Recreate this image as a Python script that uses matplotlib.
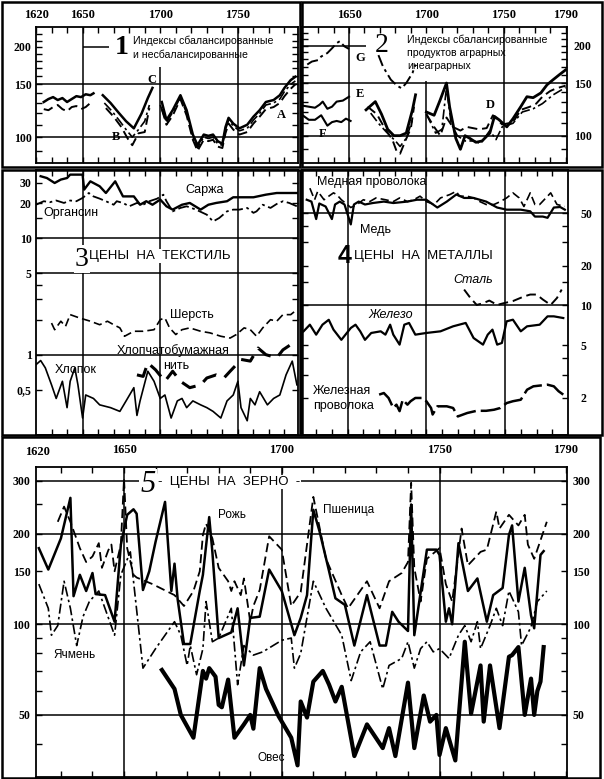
import numpy as np
import matplotlib
matplotlib.use('Agg')
import matplotlib.pyplot as plt
from matplotlib.patches import Rectangle
from matplotlib.ticker import FixedLocator, FixedFormatter, NullFormatter

plt.rcParams['font.family'] = ['Liberation Serif', 'DejaVu Serif']
plt.rcParams['font.weight'] = 'bold'
nan = np.nan

# ---------------- Panel 1: balanced / unbalanced indices ----------------
p1_solid_years = [1625,1628,1631,1634,1637,1640,1643,1646,1649,1652,1655,1657,1660,
                  1663,1668,1673,1678,1683,1688,1692,1695,1698,
                  1701,1704,1708,1713,1717,1721,1724,1728,1731,1734,1737,1740,1742,1744,
                  1747,1751,1756,1760,1764,1768,1773,1777,1780,1784,1787]
p1_solid = [131,134,136,133,135,131,134,137,136,139,138,140,nan,
            138,130,121,113,107,120,135,146,nan,
            131,114,123,138,123,102,94,102,101,102,97,95,108,116,
            111,107,110,117,123,131,133,138,146,155,159]
p1_dash_years = [1625,1628,1631,1634,1637,1640,1643,1646,1649,1652,1655,1659,
                 1665,1670,1675,1679,1682,1686,1690,1693,1697,
                 1701,1704,1708,1713,1717,1721,1724,1728,1731,1734,1737,1740,1742,1744,
                 1747,1751,1756,1760,1764,1768,1773,1777,1780,1784,1787]
p1_dash = [124,123,126,128,124,122,126,127,124,126,130,nan,
           125,117,108,99,94,103,104,125,nan,
           124,110,118,134,118,98,90,98,97,98,93,92,103,111,
           106,102,104,111,117,124,126,130,137,145,150]
p1_dd_years = [1664,1669,1674,1678,1682,1686,1690,1693,1697,
               1700,1704,1708,1713,1717,1721,1724,1728,1731,1734,1737,1740,1742,1744,
               1747,1751,1756,1760,1764,1768,1773,1777,1780,1784,1787]
p1_dd = [130,122,113,106,100,106,113,128,nan,
         128,112,121,136,120,100,92,100,99,100,95,94,106,114,
         109,105,107,114,120,128,130,134,142,150,154]

# ---------------- Panel 2: agrarian / non-agrarian ----------------
p2_G_years = [1623,1626,1630,1632,1636,1639,1642,1644,1647,1650,1660,
              1669,1672,1677,1681,1684,1687,1691,1693]
p2_G = [173,177,179,184,189,196,204,207,199,195,nan,
        186,170,154,147,144,150,162,173]
p2_E_years = [1620,1624,1628,1631,1633,1636,1639,1642,1646,1650]
p2_E = [126,125,124,127,130,123,125,130,131,135]
p2_F_years = [1620,1624,1628,1632,1636,1639,1642,1645,1648,1651]
p2_F = [117,113,113,117,108,111,112,111,114,112]
p2_solid_years = [1661,1667,1671,1675,1679,1683,1687,1691,1693,1696,
                  1700,1705,1709,1713,1715,1719,1722,1725,1728,1732,1736,1741,1744,1747,
                  1752,1756,1761,1765,1769,1774,1778,1782,1786,1790]
p2_solid = [122,130,118,105,100,100,102,122,137,nan,
            120,117,132,150,125,98,90,100,98,95,96,102,116,113,
            107,114,125,135,134,139,148,154,160,166]
p2_dash_years = [1662,1668,1673,1678,1681,1683,1686,1690,1692,1696,
                 1700,1705,1709,1713,1717,1722,1726,1730,1734,1739,1743,1746,1749,1753,
                 1757,1761,1767,1771,1775,1780,1784,1790]
p2_dash = [125,118,106,97,88,87,95,106,125,nan,
           118,107,100,115,107,104,107,106,105,106,117,113,109,110,
           113,122,125,128,135,141,144,147]
p2_dd_years = [1664,1669,1674,1680,1683,1687,1691,1696,
               1700,1706,1710,1713,1716,1720,1725,1731,1735,1741,1745,1749,1756,1762,
               1769,1775,1782,1790]
p2_dd = [119,110,103,96,92,98,113,nan,
         118,102,105,145,110,100,96,96,94,104,97,107,110,120,
         123,128,137,145]

# ---------------- Panel 3: textile prices ----------------
sarzha_years = [1623,1627,1632,1636,1640,1642,1650,1651,1655,1661,1665,1671,1676,1683,1687,
                1691,1695,1700,1704,1708,1714,1719,1726,1731,1736,1743,1747,1760,1768,1775,1788]
sarzha = [34.3,33.1,30,32.1,33.1,35.4,35.4,26.3,31,28.1,24.6,31,23,23,19.5,
          20.9,19.5,21.6,18.9,17.7,19.5,20.2,17.7,19.5,20.2,20.9,22.6,22.6,23.8,24.6,24.6]
organsin_years = [1620,1625,1629,1633,1638,1642,1646,1650,1654,1657,1661,1665,1670,1672,1676,
                  1680,1685,1689,1693,1698,1702,1704,1708,1713,1717,1723,1730,1734,1738,1743,
                  1747,1751,1756,1760,1762,1766,1771,1775,1779,1783,1788]
organsin = [19.5,20.9,20.5,21.2,20.2,21.2,20.9,22.3,24.6,23,22,20.9,19.5,20.9,20.2,
            18.9,20.2,19.5,20.9,22,23.8,20.9,17.1,18.3,18.9,17.7,16,14,15,17.1,
            17.7,17.7,18.3,16.6,17.1,19.5,18.3,19.8,20.9,20.2,18.9]
wool_years = [1630,1632,1636,1639,1642,1648,1655,1661,1666,1670,1674,1677,1683,1689,1696,
              1700,1703,1706,1710,1714,1719,1726,1732,1739,1745,1749,1754,1758,1762,1766,
              1771,1775,1779,1784,1788]
wool = [1.87,1.64,1.94,1.75,2.21,2.07,1.94,1.81,1.94,1.81,1.70,1.44,1.59,1.59,1.64,
        2.0,2.07,1.70,1.49,1.64,1.70,1.59,1.54,1.44,1.39,1.49,1.70,1.64,1.44,1.70,
        2.0,1.94,2.21,2.21,2.44]
yarn_years = [1685,1689,1692,1697,1703,1708,1713,1719,1726,1730,1736,1741,1745,1749,1752,
              1758,1763,1768,1775,1779,1784,1788]
yarn = [0.67,0.65,0.85,0.74,0.59,0.72,0.59,0.52,0.55,0.63,0.67,0.63,0.72,0.82,0.91,
        0.88,1.14,1.0,0.94,1.10,1.22,1.14]
cotton_years = [1620,1623,1626,1630,1633,1637,1640,1642,1645,1647,1650,1652,1657,1661,1668,
                1674,1678,1683,1685,1687,1692,1696,1700,1703,1707,1711,1714,1717,1721,1726,
                1730,1734,1739,1743,1747,1750,1752,1756,1758,1761,1764,1769,1773,1777,1781,
                1785,1788]
cotton = [0.82,0.89,0.77,0.55,0.42,0.59,0.35,0.59,0.77,0.55,0.285,0.45,0.42,0.37,0.35,
          0.325,0.40,0.52,0.30,0.40,0.72,0.59,0.42,0.45,0.285,0.40,0.42,0.35,0.40,0.37,
          0.35,0.325,0.285,0.40,0.45,0.59,0.35,0.27,0.42,0.37,0.48,0.37,0.42,0.45,0.67,
          0.88,0.55]

# ---------------- Panel 4: metal prices ----------------
cuwire_years = [1626,1629,1631,1635,1638,1641,1643,1646,1652,1656,1660,1664,1668,1674,1679,
                1683,1688,1692,1696,1700,1705,1709,1715,1719,1721,1726,1730,1734,1738,1743,
                1747,1751,1755,1759,1762,1766,1769,1772,1777,1779,1783,1788]
cuwire = [77,63,73,63,67,71,69,63,55,58,63,61,65,63,61,
          65,61,63,67,61,58,65,69,73,67,67,65,61,58,58,
          61,65,71,65,56,71,58,58,67,71,58,56]
copper_years = [1624,1627,1630,1632,1636,1640,1642,1645,1648,1652,1654,1657,1661,1666,1673,
                1679,1688,1694,1700,1707,1713,1719,1724,1730,1738,1745,1751,1760,1766,1769,
                1774,1777,1781,1785,1788]
copper = [63,61,45,59,56,45,58,61,58,41,58,61,58,59.5,61,
          59.5,61,63,63,55,61,69,65,65,61,55,53,53,51.5,47,
          47,46,55,55.5,53]
steel_years = [1724,1728,1732,1736,1740,1745,1749,1755,1762,1766,1770,1774,1779,1783,1786]
steel = [13.2,11.4,10.1,10.4,10.9,10.1,10.4,10.8,11.7,12.1,12.1,11.1,10.1,11.4,13.2]
iron_years = [1622,1626,1630,1634,1638,1641,1646,1652,1655,1658,1661,1665,1671,1674,1677,
              1679,1683,1686,1689,1693,1700,1709,1717,1725,1730,1736,1739,1742,1745,1748,
              1751,1755,1760,1764,1772,1777,1781,1787]
iron = [6.38,7.16,6.02,7.16,7.8,6.57,5.5,6.76,7.16,6.38,5.5,6.2,6.38,6.02,7.16,
        6.02,5.06,7.16,7.38,6.02,6.2,6.38,6.96,7.38,5.68,5.06,6.02,6.57,5.06,5.21,
        7.59,7.81,6.38,6.96,7.16,8.28,8.28,8.04]
fewire_years = [1670,1673,1676,1679,1681,1683,1685,1688,1690,1693,1698,1700,1703,1704,1707,
                1713,1717,1720,1726,1732,1738,1743,1747,1751,1755,1760,1764,1768,1777,1781,
                1784,1787]
fewire = [2.12,2.18,2.0,1.68,1.78,1.59,1.94,1.78,1.89,2.0,2.0,1.89,1.68,1.50,1.73,
          1.73,1.68,1.45,1.54,1.60,1.60,1.63,1.68,1.83,1.89,1.94,2.31,2.45,2.52,2.45,
          2.25,2.12]

# ---------------- Panel 5: grain prices ----------------
rye_years = [1623,1626,1630,1633,1634,1636,1638,1640,1641,1644,1647,1649,1651,1653,1654,
             1656,1658,1660,1663,1665,1666,1667,1669,1671,1674,1675,1677,1678,1680,1684,
             1686,1688,1690,1693,1696,1700,1704,1706,1708,1710,1712,1715,1717,1720,1723,
             1727,1731,1733,1735,1737,1740,1741,1742,1746,1749,1750,1752,1753,1754,1756,
             1759,1762,1765,1767,1770,1772,1773,1775,1777,1779,1780,1782,1783]
rye = [179,152,193,263,124,146,129,148,126,125,102,184,231,241,233,
       130,150,188,255,129,159,121,86,86,129,146,227,174,90,94,
       113,73,105,106,152,129,92,105,125,240,203,150,122,116,85,
       125,85,85,110,102,95,250,92,177,177,170,102,113,100,186,
       129,142,102,125,132,198,213,119,154,107,97,170,175]
wheat_years = [1629,1631,1633,1636,1638,1640,1642,1643,1645,1646,1647,1649,1650,1651,1653,
               1654,1659,1666,1669,1672,1674,1675,1676,1678,1680,1683,1684,1685,1687,1688,
               1690,1691,1693,1696,1700,1703,1706,1710,1714,1719,1721,1727,1731,1734,1738,
               1740,1741,1742,1744,1746,1750,1752,1754,1757,1759,1763,1765,1768,1769,1772,
               1775,1777,1778,1780,1784]
wheat = [219,246,219,179,161,168,186,154,176,184,150,184,305,179,146,
         143,136,125,115,129,150,198,216,193,154,139,129,139,125,142,
         102,115,130,196,177,115,128,265,165,125,113,139,113,139,148,
         161,295,154,119,165,179,136,119,208,157,174,177,237,208,231,
         213,231,184,165,219]
barley_years = [1623,1626,1627,1629,1631,1633,1635,1637,1639,1642,1647,1649,1652,1656,1660,
                1666,1668,1670,1671,1673,1675,1676,1678,1680,1684,1686,1688,1691,1694,1700,
                1703,1704,1706,1710,1714,1719,1722,1725,1728,1732,1734,1738,1740,1742,1744,
                1746,1748,1750,1753,1756,1758,1760,1762,1763,1766,1768,1770,1772,1775,1776,
                1779,1781,1784]
barley = [136,113,92,99,139,113,85,106,119,129,92,146,174,71.5,83,
          102,92,73,85,68,83,119,87.5,90,113,63,85,79,81,88.5,
          90,71.5,80,139,113,92,65,81,87.5,61,73,77,87.5,71.5,83,
          87.5,81,83,77,92,99,87.5,102,83,99,113,99,129,110,85,
          98,119,129]
oats_years = [1662,1666,1668,1672,1675,1676,1677,1679,1680,1681,1683,1685,1688,1690,1691,
              1693,1695,1699,1703,1705,1706,1708,1710,1713,1715,1717,1719,1723,1727,1732,
              1734,1736,1740,1742,1745,1747,1749,1750,1752,1755,1758,1760,1763,1764,1766,
              1769,1772,1773,1775,1777,1779,1780,1781,1782,1783]
oats = [70.5,61,50,42,70,66,71.5,67,54,53,65.5,42,46.5,50,45,
        71.5,61,49.5,42,34,55.4,49,64.5,70,63,55.4,62,36.5,46.5,38.8,
        45.2,36.5,64,38.8,58,47.5,50,36.8,45.2,35.3,87.5,50.5,73,47.5,73,
        45.2,78,79,84,50,66,50,60,64.5,84]

# tick label sets
p12_ylabels = [100, 150, 200]
p3_ylabels = [30, 20, 10, 5, 1, 0.5]
p3_ylabel_text = ['30', '20', '10', '5', '1', '0,5']
p4_ylabels = [50, 20, 10, 5, 2]
p5_ylabels = [300, 200, 150, 100, 50]

# ---------------- figure helpers ----------------
W, H = 604, 779
fig = plt.figure(figsize=(W / 100, H / 100), dpi=100)
SANS = 'Liberation Sans'
SERIF = 'Liberation Serif'


def add_ax(x0, y0, x1, y1):
    return fig.add_axes([x0 / W, 1 - y1 / H, (x1 - x0) / W, (y1 - y0) / H])


def frame(x0, y0, x1, y1, lw=1.8):
    fig.patches.append(Rectangle((x0 / W, 1 - y1 / H), (x1 - x0) / W, (y1 - y0) / H,
                                 transform=fig.transFigure, fill=False, lw=lw,
                                 ec='black', zorder=5))


def T(x, y, s, size=9, family=SANS, weight='normal', style='normal', ha='left',
      va='center', bg=False):
    kw = {}
    if bg:
        kw['bbox'] = dict(facecolor='white', edgecolor='none', pad=0.8)
    fig.text(x / W, 1 - y / H, s, fontsize=size, family=family, weight=weight,
             style=style, ha=ha, va=va, zorder=6, **kw)


def setup(ax, xlim, ylim, xyears, yvals, ytext, minor_y, yside, show_years=True, xpad=4,
          ypad=3):
    ax.set_yscale('log')
    ax.set_xlim(*xlim)
    ax.set_ylim(*ylim)
    ax.xaxis.set_major_locator(FixedLocator(xyears))
    ax.xaxis.set_major_formatter(FixedFormatter([str(y) for y in xyears]))
    ax.xaxis.set_minor_locator(FixedLocator([y for y in range(1630, 1791, 10)
                                             if xlim[0] < y < xlim[1]]))
    ax.xaxis.set_minor_formatter(NullFormatter())
    ax.tick_params(axis='x', which='both', direction='in', top=True, bottom=True,
                   length=4, width=1, labelbottom=False, labeltop=show_years,
                   pad=xpad, labelsize=9)
    ax.yaxis.set_major_locator(FixedLocator(yvals))
    ax.yaxis.set_major_formatter(FixedFormatter(ytext))
    ax.yaxis.set_minor_locator(FixedLocator(minor_y))
    ax.yaxis.set_minor_formatter(NullFormatter())
    ax.tick_params(axis='y', which='both', direction='in', left=True, right=True,
                   length=4, width=1, labelleft=(yside == 'left' or yside == 'both'),
                   labelright=(yside == 'right' or yside == 'both'), pad=ypad,
                   labelsize=8.5)
    for sp in ax.spines.values():
        sp.set_linewidth(1.3)
    ax.set_facecolor('none')


GRID = dict(color='black', lw=1.1, zorder=1)
DASH = (0, (5, 2.5))
DASHDOT = (0, (6, 2, 1.5, 2))

# ---------------- Panel 1 ----------------
ax1 = add_ax(36, 27, 298, 163)
setup(ax1, (1620, 1788.7), (82, 233), [1620, 1650, 1700, 1750], p12_ylabels,
      [str(v) for v in p12_ylabels], [90, 110, 120, 130, 140, 160, 170, 180, 190, 210, 220],
      'left', xpad=4)
ax1.axhline(100, **GRID)
ax1.axhline(150, **GRID)
ax1.hlines(200, 1650, 1667, **GRID)
ax1.axvline(1650, **GRID)
ax1.vlines(1700, 82, 172, **GRID)
ax1.axvline(1750, **GRID)
ax1.plot(p1_solid_years, p1_solid, color='black', lw=1.8, zorder=3)
ax1.plot(p1_dash_years, p1_dash, color='black', lw=1.4, ls=DASH, zorder=3)
ax1.plot(p1_dd_years, p1_dd, color='black', lw=1.2, ls=DASHDOT, zorder=3)
T(122, 48, '1', size=20, family=SERIF, weight='bold', ha='center')
T(133, 41, 'Индексы сбалансированные', size=7.6)
T(133, 55, 'и несбалансированные', size=7.6)
T(152, 80, 'C', size=9, family=SERIF, weight='bold', ha='center')
T(116, 137, 'B', size=9, family=SERIF, weight='bold', ha='center')
T(281, 115, 'A', size=9, family=SERIF, weight='bold', ha='center')

# ---------------- Panel 2 ----------------
ax2 = add_ax(302, 27, 567, 163)
setup(ax2, (1619.6, 1790.9), (81, 231), [1650, 1700, 1750, 1790], p12_ylabels,
      [str(v) for v in p12_ylabels], [90, 110, 120, 130, 140, 160, 170, 180, 190, 210, 220],
      'right', xpad=4, ypad=5)
ax2.axhline(100, **GRID)
ax2.axhline(150, **GRID)
ax2.hlines(200, 1619.6, 1661, **GRID)
ax2.axvline(1650, **GRID)
ax2.vlines(1700, 81, 152, **GRID)
ax2.axvline(1750, **GRID)
ax2.plot(p2_G_years, p2_G, color='black', lw=1.4, ls=DASHDOT, zorder=3)
ax2.plot(p2_E_years, p2_E, color='black', lw=1.5, zorder=3)
ax2.plot(p2_F_years, p2_F, color='black', lw=1.5, zorder=3)
ax2.plot(p2_solid_years, p2_solid, color='black', lw=2.0, zorder=3)
ax2.plot(p2_dash_years, p2_dash, color='black', lw=1.4, ls=DASH, zorder=3)
ax2.plot(p2_dd_years, p2_dd, color='black', lw=1.2, ls=DASHDOT, zorder=3)
T(382, 46, '2', size=20, family=SERIF, weight='normal', ha='center')
T(407, 40, 'Индексы сбалансированные', size=7.6)
T(407, 53, 'продуктов аграрных', size=7.6)
T(407, 66, 'инеаграрных', size=7.6)
T(360, 58, 'G', size=9, family=SERIF, weight='bold', ha='center')
T(360, 94, 'E', size=9, family=SERIF, weight='bold', ha='center')
T(323, 134, 'F', size=9, family=SERIF, weight='bold', ha='center')
T(490, 105, 'D', size=9, family=SERIF, weight='bold', ha='center')

# ---------------- Panel 3 ----------------
ax3 = add_ax(36, 170, 298, 435)
setup(ax3, (1620, 1788.7), (0.2036, 38.8), [1650, 1700, 1750], p3_ylabels,
      p3_ylabel_text, [2, 3, 4, 15], 'left', show_years=False)
for v in (10, 5, 1):
    ax3.axhline(v, **GRID)
for yr in (1650, 1700, 1750):
    ax3.axvline(yr, **GRID)
ax3.plot(sarzha_years, sarzha, color='black', lw=1.7, zorder=3)
ax3.plot(organsin_years, organsin, color='black', lw=1.3, ls=DASHDOT, zorder=3)
ax3.plot(wool_years, wool, color='black', lw=1.2, ls=DASH, zorder=3)
ax3.plot(yarn_years, yarn, color='black', lw=2.2, ls=(0, (5, 3)), zorder=3)
ax3.plot(cotton_years, cotton, color='black', lw=1.2, zorder=3)
T(185, 190, 'Саржа', size=9)
T(43, 213, 'Органсин', size=9)
T(82, 259, '3', size=20, family=SERIF, weight='normal', ha='center', bg=True)
T(89, 256, 'ЦЕНЫ  НА  ТЕКСТИЛЬ', size=9.5, bg=True)
T(170, 315, 'Шерсть', size=9)
T(117, 351, 'Хлопчатобумажная', size=9)
T(163, 366, 'нить', size=9)
T(55, 370, 'Хлопок', size=9)

# ---------------- Panel 4 ----------------
ax4 = add_ax(302, 170, 568, 435)
setup(ax4, (1621, 1790), (1.05, 105.7), [1650, 1700, 1750], p4_ylabels,
      [str(v) for v in p4_ylabels], [3, 4, 15, 30, 40], 'right', show_years=False,
      ypad=9)
ax4.axhline(50, **GRID)
ax4.axhline(10, **GRID)
for yr in (1650, 1700, 1750):
    ax4.axvline(yr, **GRID)
ax4.plot(cuwire_years, cuwire, color='black', lw=1.2, ls=DASH, zorder=3)
ax4.plot(copper_years, copper, color='black', lw=1.6, zorder=3)
ax4.plot(steel_years, steel, color='black', lw=1.4, ls=DASH, zorder=3)
ax4.plot(iron_years, iron, color='black', lw=1.6, zorder=3)
ax4.plot(fewire_years, fewire, color='black', lw=1.8, ls=(0, (8, 2)), zorder=3)
T(317, 182, 'Медная проволока', size=9)
T(360, 230, 'Медь', size=9)
T(345, 256, '4', size=18, family=SANS, weight='bold', ha='center')
T(354, 256, 'ЦЕНЫ  НА  МЕТАЛЛЫ', size=9.5)
T(453, 280, 'Сталь', size=9, style='italic')
T(368, 315, 'Железо', size=9, style='italic')
T(313, 391, 'Железная', size=9)
T(313, 406, 'проволока', size=9)

# ---------------- Panel 5 ----------------
ax5 = add_ax(36, 467, 567, 777)
setup(ax5, (1622.1, 1790.4), (31.1, 333), [1650, 1700, 1750, 1790], p5_ylabels,
      [str(v) for v in p5_ylabels], [40, 60, 70, 80, 90, 250], 'both', xpad=8, ypad=4)
for v in (300, 200, 100, 50):
    ax5.axhline(v, **GRID)
for yr in (1650, 1700, 1750):
    ax5.axvline(yr, **GRID)
ax5.plot(wheat_years, wheat, color='black', lw=1.3, ls=DASH, zorder=3)
ax5.plot(rye_years, rye, color='black', lw=1.8, zorder=3)
ax5.plot(barley_years, barley, color='black', lw=1.2, ls=DASHDOT, zorder=3)
ax5.plot(oats_years, oats, color='black', lw=3.0, zorder=3)
T(37, 452, '1620', size=9, family=SERIF, weight='bold', ha='center')
T(148, 485, '5', size=22, family=SERIF, weight='normal', style='italic', ha='center',
      bg=True)
T(158, 482, '-  ЦЕНЫ  НА  ЗЕРНО  -', size=9.5, bg=True)
T(218, 515, 'Рожь', size=8.5)
T(323, 510, 'Пшеница', size=8.5)
T(53, 655, 'Ячмень', size=8.5)
T(257, 758, 'Овес', size=8.5)

# ---------------- outer frames ----------------
frame(2, 2, 300, 167)
frame(302, 2, 602, 167)
frame(2, 170, 300, 435)
frame(302, 170, 602, 435)
frame(2, 437, 600, 778)

fig.savefig('out.png', dpi=100)
